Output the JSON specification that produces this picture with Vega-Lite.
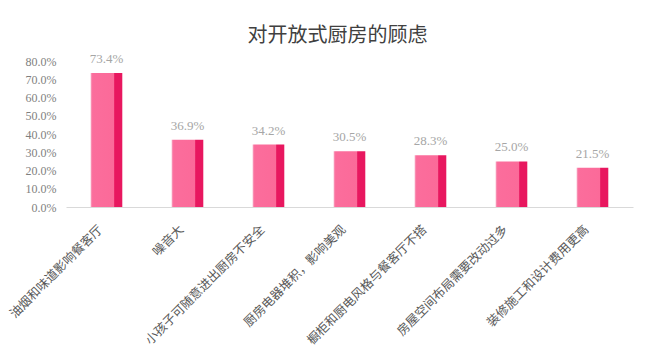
{
  "$schema": "https://vega.github.io/schema/vega-lite/v6.json",
  "width": 567,
  "height": 146,
  "autosize": {"type": "none"},
  "padding": {"left": 66, "top": 61, "right": 17, "bottom": 156},
  "background": "white",
  "title": {
    "text": "对开放式厨房的顾虑",
    "font": "Liberation Serif, Noto Sans CJK SC",
    "fontSize": 20,
    "fontWeight": "normal",
    "color": "#404040",
    "anchor": "middle",
    "dx": -12,
    "offset": 7
  },
  "data": {
    "values": [
      {"concern": "油烟和味道影响餐客厅", "pct": 0.734},
      {"concern": "噪音大", "pct": 0.369},
      {"concern": "小孩子可随意进出厨房不安全", "pct": 0.342},
      {"concern": "厨房电器堆积，影响美观", "pct": 0.305},
      {"concern": "橱柜和厨电风格与餐客厅不搭", "pct": 0.283},
      {"concern": "房屋空间布局需要改动过多", "pct": 0.25},
      {"concern": "装修施工和设计费用更高", "pct": 0.215}
    ]
  },
  "encoding": {
    "x": {
      "field": "concern",
      "type": "nominal",
      "sort": null,
      "scale": {"paddingInner": 0.61, "paddingOuter": 0.305},
      "axis": {
        "title": null,
        "labelAngle": -45,
        "labelAlign": "right",
        "labelBaseline": "middle",
        "labelFont": "Liberation Serif, Noto Sans CJK SC",
        "labelFontSize": 12.5,
        "labelColor": "#595959",
        "labelPadding": 20,
        "labelOffset": -6,
        "labelLimit": 300,
        "ticks": false,
        "domainColor": "#D9D9D9",
        "domainWidth": 1
      }
    },
    "y": {
      "field": "pct",
      "type": "quantitative",
      "scale": {"domain": [0, 0.8]},
      "axis": {
        "title": null,
        "format": ".1%",
        "values": [0, 0.1, 0.2, 0.3, 0.4, 0.5, 0.6, 0.7, 0.8],
        "grid": false,
        "domain": false,
        "ticks": false,
        "labelFont": "Liberation Serif",
        "labelFontSize": 12,
        "labelColor": "#7F7F7F",
        "labelPadding": 10
      }
    }
  },
  "layer": [
    {
      "mark": {
        "type": "bar",
        "color": {
          "gradient": "linear",
          "x1": 0, "x2": 1, "y1": 0, "y2": 0,
          "stops": [
            {"offset": 0, "color": "#F7A3C0"},
            {"offset": 0.06, "color": "#FB6D9C"},
            {"offset": 0.745, "color": "#FB6A99"},
            {"offset": 0.755, "color": "#E8175F"},
            {"offset": 1, "color": "#E8175F"}
          ]
        }
      }
    },
    {
      "mark": {
        "type": "text",
        "baseline": "bottom",
        "dy": -7,
        "font": "Liberation Serif",
        "fontSize": 13,
        "color": "#A6A6A6"
      },
      "encoding": {
        "text": {"field": "pct", "type": "quantitative", "format": ".1%"}
      }
    }
  ],
  "config": {"view": {"stroke": null}}
}
